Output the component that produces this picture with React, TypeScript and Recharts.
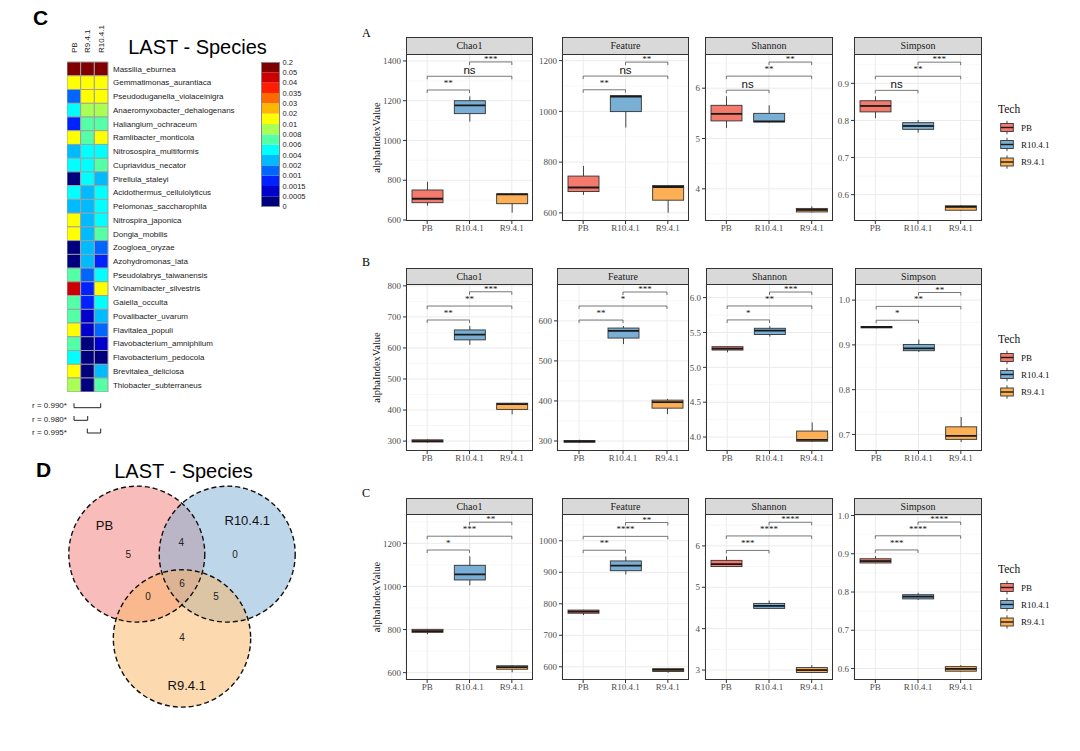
import React from 'react';
import {
  ComposedChart, Bar, XAxis, YAxis, CartesianGrid, ReferenceLine,
  BarChart, Cell, ScatterChart, Scatter,
} from 'recharts';

const SERIF = '"Liberation Serif", "Times New Roman", serif';
const SANS = '"Liberation Sans", Arial, sans-serif';

// ---------- alpha diversity boxplots ----------
const techs = ['PB', 'R10.4.1', 'R9.4.1'];
const techColors = ['#F47A6E', '#7AAFD5', '#FDAF55'];
const metrics = ['Chao1', 'Feature', 'Shannon', 'Simpson'];
const sigPairs = [['PB', 'R10.4.1'], ['PB', 'R9.4.1'], ['R10.4.1', 'R9.4.1']];

// [min, q1, median, q3, max] for PB, R10.4.1, R9.4.1
const aChao1 = [[672, 687, 707, 751, 793], [1095, 1135, 1177, 1200, 1222], [637, 682, 729, 732, 733]];
const aFeature = [[671, 684, 700, 745, 785], [936, 999, 1058, 1062, 1063], [601, 650, 702, 708, 710]];
const aShannon = [[5.21, 5.35, 5.49, 5.66, 5.84], [5.32, 5.33, 5.34, 5.5, 5.66], [3.53, 3.54, 3.58, 3.61, 3.65]];
const aSimpson = [[0.806, 0.823, 0.839, 0.853, 0.865], [0.767, 0.776, 0.785, 0.794, 0.801], [0.556, 0.558, 0.567, 0.57, 0.572]];

const bChao1 = [[295, 297, 300, 304, 306], [610, 626, 643, 658, 671], [386, 402, 419, 422, 423]];
const bFeature = [[295, 297, 299, 301, 303], [542, 557, 575, 582, 587], [367, 382, 397, 402, 405]];
const bShannon = [[5.215, 5.248, 5.267, 5.296, 5.3], [5.44, 5.47, 5.525, 5.56, 5.59], [3.93, 3.94, 3.96, 4.086, 4.21]];
const bSimpson = [[0.937, 0.938, 0.94, 0.941, 0.942], [0.884, 0.887, 0.892, 0.901, 0.912], [0.683, 0.689, 0.697, 0.717, 0.739]];

const cChao1 = [[778, 787, 793, 801, 803], [1005, 1030, 1056, 1098, 1140], [602, 616, 626, 632, 635]];
const cFeature = [[764, 770, 775, 780, 781], [893, 905, 921, 936, 950], [581, 585, 590, 594, 595]];
const cShannon = [[5.49, 5.5, 5.56, 5.65, 5.75], [4.48, 4.49, 4.55, 4.61, 4.68], [2.93, 2.94, 3.0, 3.06, 3.12]];
const cSimpson = [[0.875, 0.876, 0.881, 0.887, 0.894], [0.779, 0.782, 0.788, 0.793, 0.798], [0.592, 0.593, 0.599, 0.605, 0.609]];

// significance labels and bracket heights
const aChao1Sig = ['**', 'ns', '***'];
const aChao1SigY = [1254, 1323, 1395];
const aFeatureSig = ['**', 'ns', '**'];
const aFeatureSigY = [1085, 1139, 1194];
const aShannonSig = ['ns', '**', '**'];
const aShannonSigY = [5.96, 6.24, 6.52];
const aSimpsonSig = ['ns', '**', '***'];
const aSimpsonSigY = [0.881, 0.919, 0.957];

const bChao1Sig = ['**', '**', '***'];
const bChao1SigY = [690, 735, 781];
const bFeatureSig = ['**', '*', '***'];
const bFeatureSigY = [602, 637, 672];
const bShannonSig = ['*', '**', '***'];
const bShannonSigY = [5.68, 5.88, 6.08];
const bSimpsonSig = ['*', '**', '**'];
const bSimpsonSigY = [0.955, 0.986, 1.017];

const cChao1Sig = ['*', '***', '**'];
const cChao1SigY = [1169, 1233, 1298];
const cFeatureSig = ['**', '****', '**'];
const cFeatureSigY = [970, 1014, 1058];
const cShannonSig = ['***', '****', '****'];
const cShannonSigY = [5.89, 6.24, 6.57];
const cSimpsonSig = ['***', '****', '****'];
const cSimpsonSigY = [0.91, 0.947, 0.983];

// y axis ticks and ranges
const aChao1Ticks = [600, 800, 1000, 1200, 1400];
const aFeatureTicks = [600, 800, 1000, 1200];
const aShannonTicks = [4, 5, 6];
const aSimpsonTicks = [0.6, 0.7, 0.8, 0.9];
const bChao1Ticks = [300, 400, 500, 600, 700, 800];
const bFeatureTicks = [300, 400, 500, 600];
const bShannonTicks = [4.0, 4.5, 5.0, 5.5, 6.0];
const bSimpsonTicks = [0.7, 0.8, 0.9, 1.0];
const cChao1Ticks = [600, 800, 1000, 1200];
const cFeatureTicks = [600, 700, 800, 900, 1000];
const cShannonTicks = [3, 4, 5, 6];
const cSimpsonTicks = [0.6, 0.7, 0.8, 0.9, 1.0];

const aDomains = [[595, 1435], [568, 1226], [3.36, 6.68], [0.529, 0.979]];
const bDomains = [[268, 806], [275, 692], [3.8, 6.195], [0.663, 1.036]];
const cDomains = [[566, 1336], [558, 1085], [2.76, 6.77], [0.57, 1.004]];

// ---------- heatmap ----------
const heatColumns = ['PB', 'R9.4.1', 'R10.4.1'];
const species = [
  'Massilia_eburnea', 'Gemmatimonas_aurantiaca', 'Pseudoduganella_violaceinigra',
  'Anaeromyxobacter_dehalogenans', 'Haliangium_ochraceum', 'Ramlibacter_monticola',
  'Nitrosospira_multiformis', 'Cupriavidus_necator', 'Pirellula_staleyi',
  'Acidothermus_cellulolyticus', 'Pelomonas_saccharophila', 'Nitrospira_japonica',
  'Dongia_mobilis', 'Zoogloea_oryzae', 'Azohydromonas_lata', 'Pseudolabrys_taiwanensis',
  'Vicinamibacter_silvestris', 'Gaiella_occulta', 'Povalibacter_uvarum', 'Flavitalea_populi',
  'Flavobacterium_amniphilum', 'Flavobacterium_pedocola', 'Brevitalea_deliciosa',
  'Thiobacter_subterraneus',
];
const heatPB = [0.12, 0.016, 0.0017, 0.005, 0.0012, 0.011, 0.003, 0.005, 0.0002, 0.0048, 0.003, 0.011,
  0.012, 0.0003, 0.0002, 0.0068, 0.045, 0.0066, 0.0064, 0.013, 0.0062, 0.0046, 0.01, 0.0085];
const heatR9 = [0.11, 0.014, 0.013, 0.009, 0.007, 0.007, 0.005, 0.0045, 0.005, 0.003, 0.0028, 0.0025,
  0.0024, 0.0023, 0.0022, 0.0016, 0.0011, 0.0011, 0.0008, 0.0007, 0.0003, 0.0002, 0.0002, 0.0001];
const heatR10 = [0.1, 0.015, 0.012, 0.009, 0.007, 0.012, 0.005, 0.007, 0.003, 0.0047, 0.0045, 0.0042,
  0.0065, 0.0016, 0.0012, 0.0044, 0.011, 0.0043, 0.0026, 0.0016, 0.0007, 0.0001, 0.0024, 0.0062];
const heatBreaks = [0, 0.0005, 0.001, 0.0015, 0.002, 0.004, 0.006, 0.008, 0.01, 0.02, 0.03, 0.035, 0.04, 0.05, 0.2];
const heatColors = ['#00007F', '#0000CC', '#0022FF', '#0066FF', '#00BBFF', '#00FFFF', '#55FFA5',
  '#AAFF55', '#FFFF00', '#FFB600', '#FF6A00', '#FF1E00', '#CC0000', '#800000'];
const heatLegendLabels = ['0.2', '0.05', '0.04', '0.035', '0.03', '0.02', '0.01', '0.008', '0.006',
  '0.004', '0.002', '0.001', '0.0015', '0.0005', '0'];

// ---------- venn ----------
const vennSets = ['PB', 'R10.4.1', 'R9.4.1'];
const vennColors = ['#F17975', '#7DADD5', '#F9B35F'];
const vennCX = [-0.665, 0.665, 0];
const vennCY = [0.41, 0.41, -0.83];
const vennR = [1, 1, 1.01];
const vennLabelX = [-1.14, 0.96, 0.07];
const vennLabelY = [0.83, 0.9, -1.52];
const vennCounts = [5, 4, 0, 6, 0, 5, 4];
const vennCountX = [-0.79, -0.01, 0.78, 0, -0.5, 0.5, 0];
const vennCountY = [0.4, 0.58, 0.4, -0.02, -0.21, -0.21, -0.82];

const heatColor = (v: number) => {
  let k = 0;
  for (let i = 0; i < heatColors.length; i++) if (v >= heatBreaks[i]) k = i;
  return heatColors[k];
};

const AXW = 40;
const XH = 20;
const TOPPAD = 8;

function BoxShape(props: any) {
  const { x, y, width, height, payload } = props;
  if (!payload) return null;
  const [mn, q1, md, q3, mx] = payload.stats;
  const top = Math.min(y, y + height);
  const h = Math.abs(height);
  const py = (v: number) => top + ((mx - v) / (mx - mn)) * h;
  const cx = x + width / 2;
  return (
    <g>
      <line x1={cx} x2={cx} y1={py(mx)} y2={py(mn)} stroke="#333" strokeWidth={0.9} />
      <rect x={x} y={py(q3)} width={width} height={Math.max(py(q1) - py(q3), 0.6)}
        fill={payload.color} stroke="#333" strokeWidth={0.9} />
      <line x1={x} x2={x + width} y1={py(md)} y2={py(md)} stroke="#1a1a1a" strokeWidth={1.8} />
    </g>
  );
}

function SigLabel(props: any) {
  const { viewBox, text, lift } = props;
  if (!viewBox) return null;
  let cx: number;
  let cy: number;
  if (viewBox.x1 !== undefined) {
    cx = (viewBox.x1 + viewBox.x2) / 2;
    cy = Math.min(viewBox.y1, viewBox.y2);
  } else {
    cx = viewBox.x + (viewBox.width || 0) / 2;
    cy = viewBox.y;
  }
  const ns = text === 'ns';
  return (
    <text x={cx} y={cy - lift} textAnchor="middle" fontSize={ns ? 11.5 : 9}
      fontFamily={ns ? SANS : SERIF} fill="#111">{text}</text>
  );
}

function AlphaPanel(p: any) {
  const { title, stats, ticks, domain, sig, sigY, left, right, top, bottom, stripTop } = p;
  const plotW = right - left;
  const plotH = bottom - top;
  const rows = techs.map((t, i) => ({ tech: t, color: techColors[i], stats: stats[i], lo: stats[i][0], hi: stats[i][4] }));
  const step = ticks[1] - ticks[0];
  const minors = [ticks[0] - step / 2, ...ticks.map((t: number) => t + step / 2)]
    .filter((v) => v > domain[0] && v < domain[1]);
  const dec = step < 1 ? 1 : 0;
  const tip = (domain[1] - domain[0]) * 0.018;
  const tickStyle = { fontSize: 9, fill: '#4D4D4D', fontFamily: SERIF };
  const liftFor = (k: number) => (sig[k] === 'ns' ? 2 : k === 2 ? 0 : 4);
  return (
    <>
      <div style={{ position: 'absolute', left: left - AXW, top: top - TOPPAD, width: plotW + AXW, height: plotH + XH + TOPPAD }}>
        <ComposedChart width={plotW + AXW} height={plotH + XH + TOPPAD} data={rows}
          margin={{ top: TOPPAD, right: 0, bottom: 0, left: 0 }}>
          <CartesianGrid vertical={false} horizontalValues={minors} stroke="#F3F3F3" strokeWidth={0.7} />
          <CartesianGrid horizontalValues={ticks} stroke="#EBEBEB" strokeWidth={1} />
          <XAxis dataKey="tech" type="category" interval={0} height={XH} tickSize={3} tickMargin={1}
            axisLine={false} tickLine={{ stroke: '#333' }} tick={tickStyle} />
          <YAxis type="number" domain={domain} ticks={ticks} interval={0} width={AXW} tickSize={3}
            tickMargin={2} axisLine={false} tickLine={{ stroke: '#333' }} tick={tickStyle}
            allowDataOverflow tickFormatter={(v: number) => v.toFixed(dec)} />
          <Bar dataKey={(d: any) => [d.lo, d.hi]} barSize={31} isAnimationActive={false}
            shape={(sp: any) => <BoxShape {...sp} />} />
          {sigPairs.map(([a, b], k) => (
            <ReferenceLine key={`h${k}`} segment={[{ x: a, y: sigY[k] }, { x: b, y: sigY[k] }]}
              stroke="#555" strokeWidth={0.8} ifOverflow="visible"
              label={<SigLabel text={sig[k]} lift={liftFor(k)} />} />
          ))}
          {sigPairs.map(([a], k) => (
            <ReferenceLine key={`l${k}`} segment={[{ x: a, y: sigY[k] }, { x: a, y: sigY[k] - tip }]}
              stroke="#555" strokeWidth={0.8} ifOverflow="visible" />
          ))}
          {sigPairs.map(([, b], k) => (
            <ReferenceLine key={`r${k}`} segment={[{ x: b, y: sigY[k] }, { x: b, y: sigY[k] - tip }]}
              stroke="#555" strokeWidth={0.8} ifOverflow="visible" />
          ))}
        </ComposedChart>
      </div>
      <div style={{
        position: 'absolute', left, top, width: plotW, height: plotH, boxSizing: 'border-box',
        border: '1px solid #333', pointerEvents: 'none',
      }} />
      <div style={{
        position: 'absolute', left, top: stripTop, width: plotW, height: top - stripTop + 1,
        boxSizing: 'border-box', border: '1px solid #333', background: '#D9D9D9',
        fontFamily: SERIF, fontSize: 10, color: '#1A1A1A', textAlign: 'center',
        lineHeight: `${top - stripTop - 1}px`,
      }}>{title}</div>
    </>
  );
}

function TechLegend({ y }: { y: number }) {
  const offs = [18.5, 35.5, 53];
  return (
    <svg style={{ position: 'absolute', left: 995, top: y - 10, overflow: 'visible' }} width={80} height={70}>
      <text x={3} y={14} fontFamily={SERIF} fontSize={11.5} fill="#111">Tech</text>
      {techs.map((t, i) => {
        const yc = 10 + offs[i];
        return (
          <g key={t}>
            <line x1={12} x2={12} y1={yc - 6.7} y2={yc + 6.7} stroke="#333" strokeWidth={0.9} />
            <rect x={5.7} y={yc - 4} width={12.6} height={8} fill={techColors[i]} stroke="#333" strokeWidth={0.9} />
            <line x1={5.7} x2={18.3} y1={yc} y2={yc} stroke="#1a1a1a" strokeWidth={1.4} />
            <text x={26} y={yc + 3} fontFamily={SERIF} fontSize={9} fill="#111">{t}</text>
          </g>
        );
      })}
    </svg>
  );
}

function ColTick(props: any) {
  const { x, y, payload } = props;
  const label = heatColumns[Math.floor(payload.value)];
  return (
    <text x={x} y={y} dy="0.35em" transform={`rotate(-90 ${x} ${y})`} textAnchor="start"
      fontFamily={SANS} fontSize={8} fill="#222">{label}</text>
  );
}

export default function App() {
  const rowGeo = [
    { stripTop: 37, top: 54, bottom: 221, lefts: [406, 562, 705, 854], label: 'A', labelY: 37 },
    { stripTop: 268, top: 284, bottom: 451, lefts: [406, 557, 706, 855], label: 'B', labelY: 266 },
    { stripTop: 498, top: 514, bottom: 680, lefts: [406, 562, 705, 854], label: 'C', labelY: 497 },
  ];
  const rights = [533, 689, 833, 982];
  const rowStats = [[aChao1, aFeature, aShannon, aSimpson], [bChao1, bFeature, bShannon, bSimpson], [cChao1, cFeature, cShannon, cSimpson]];
  const rowTicks = [[aChao1Ticks, aFeatureTicks, aShannonTicks, aSimpsonTicks], [bChao1Ticks, bFeatureTicks, bShannonTicks, bSimpsonTicks], [cChao1Ticks, cFeatureTicks, cShannonTicks, cSimpsonTicks]];
  const rowDomains = [aDomains, bDomains, cDomains];
  const rowSig = [[aChao1Sig, aFeatureSig, aShannonSig, aSimpsonSig], [bChao1Sig, bFeatureSig, bShannonSig, bSimpsonSig], [cChao1Sig, cFeatureSig, cShannonSig, cSimpsonSig]];
  const rowSigY = [[aChao1SigY, aFeatureSigY, aShannonSigY, aSimpsonSigY], [bChao1SigY, bFeatureSigY, bShannonSigY, bSimpsonSigY], [cChao1SigY, cFeatureSigY, cShannonSigY, cSimpsonSigY]];
  const legendYs = [109, 339.3, 569.3];

  // heatmap geometry
  const HX = 66.7;
  const HT = 62;
  const HW = 41;
  const HH = 329.7;
  const HTOPAX = 42;
  const heatRows = species.map((s) => ({ species: s, c0: 1, c1: 1, c2: 1 }));
  const heatCols = [heatPB, heatR9, heatR10];
  const legendRow = [heatColors.reduce((o: any, _c, i) => ({ ...o, [`b${i}`]: 1 }), { name: 'scale' })];
  const LPAD = 6;

  // venn geometry
  const VS = 272;
  const VL = 45.8;
  const VT = 445.9;
  const PX = VS / 4;
  const circles = vennSets.map((s, i) => ({ x: vennCX[i], y: vennCY[i], r: vennR[i], color: vennColors[i] }));
  const setLabels = vennSets.map((s, i) => ({ x: vennLabelX[i], y: vennLabelY[i], text: s }));
  const counts = vennCounts.map((c, i) => ({ x: vennCountX[i], y: vennCountY[i], text: String(c) }));

  return (
    <div style={{ position: 'absolute', left: 0, top: 0, width: 1080, height: 751, background: '#fff', overflow: 'hidden', fontFamily: SANS }}>
      {/* heatmap */}
      <div style={{ position: 'absolute', left: HX, top: HT - HTOPAX }}>
        <BarChart width={HW + 200} height={HH + HTOPAX} data={heatRows} layout="vertical"
          barCategoryGap={0} margin={{ top: 0, right: 0, bottom: 0, left: 0 }}>
          <XAxis type="number" orientation="top" domain={[0, 3]} ticks={[0.5, 1.5, 2.5]} interval={0}
            height={HTOPAX} tickSize={4} tickMargin={5} axisLine={false} tickLine={false}
            tick={(tp: any) => <ColTick {...tp} />} />
          <YAxis type="category" dataKey="species" orientation="right" width={200} interval={0}
            tickSize={3} tickMargin={2} axisLine={false} tickLine={false}
            tick={{ fontSize: 8, fill: '#222', fontFamily: SANS }} />
          {heatCols.map((col, ci) => (
            <Bar key={ci} dataKey={`c${ci}`} stackId="h" stroke="#A0A0A0" strokeWidth={1} isAnimationActive={false}>
              {col.map((v, ri) => <Cell key={ri} fill={heatColor(v)} />)}
            </Bar>
          ))}
        </BarChart>
      </div>
      {/* heatmap colour key */}
      <div style={{ position: 'absolute', left: 261.7, top: 62 - LPAD }}>
        <BarChart width={17.6 + 40} height={144.7 + 2 * LPAD} data={legendRow} barCategoryGap={0}
          margin={{ top: LPAD, right: 0, bottom: LPAD, left: 0 }}>
          <XAxis dataKey="name" type="category" hide />
          <YAxis type="number" orientation="right" domain={[0, heatColors.length]} width={40}
            ticks={heatLegendLabels.map((_l, i) => i)} interval={0} axisLine={false} tickLine={false}
            tickSize={0} tickMargin={3} tick={{ fontSize: 7.5, fill: '#222', fontFamily: SANS, textAnchor: 'start' }}
            tickFormatter={(t: number) => heatLegendLabels[heatColors.length - t]} />
          {heatColors.map((c, i) => (
            <Bar key={i} dataKey={`b${i}`} stackId="k" fill={c} isAnimationActive={false} />
          ))}
        </BarChart>
      </div>
      <div style={{ position: 'absolute', left: 261.2, top: 61.5, width: 18.6, height: 145.7, boxSizing: 'border-box', border: '1px solid #888' }} />

      {/* venn */}
      <div style={{ position: 'absolute', left: VL, top: VT }}>
        <ScatterChart width={VS} height={VS} margin={{ top: 0, right: 0, bottom: 0, left: 0 }}>
          <XAxis type="number" dataKey="x" domain={[-2, 2]} hide />
          <YAxis type="number" dataKey="y" domain={[-2, 2]} hide />
          <Scatter data={circles} isAnimationActive={false}
            shape={(sp: any) => <circle cx={sp.cx} cy={sp.cy} r={sp.payload.r * PX} fill={sp.payload.color} fillOpacity={0.5} />} />
          <Scatter data={circles} isAnimationActive={false}
            shape={(sp: any) => <circle cx={sp.cx} cy={sp.cy} r={sp.payload.r * PX} fill="none" stroke="#111" strokeWidth={1.4} strokeDasharray="5 3" />} />
          <Scatter data={counts} isAnimationActive={false}
            shape={(sp: any) => <text x={sp.cx} y={sp.cy} textAnchor="middle" dominantBaseline="central" fontSize={10} fontFamily={SANS} fill="#222">{sp.payload.text}</text>} />
          <Scatter data={setLabels} isAnimationActive={false}
            shape={(sp: any) => <text x={sp.cx} y={sp.cy} textAnchor="middle" dominantBaseline="central" fontSize={13} fontFamily={SANS} fill="#111">{sp.payload.text}</text>} />
        </ScatterChart>
      </div>

      {/* boxplot panels */}
      {rowGeo.map((g, r) => metrics.map((m, c) => (
        <AlphaPanel key={`${r}-${c}`} title={m} stats={rowStats[r][c]} ticks={rowTicks[r][c]}
          domain={rowDomains[r][c]} sig={rowSig[r][c]} sigY={rowSigY[r][c]}
          left={g.lefts[c]} right={rights[c]} top={g.top} bottom={g.bottom} stripTop={g.stripTop} />
      )))}
      {legendYs.map((y, i) => <TechLegend key={i} y={y} />)}

      {/* static text */}
      <svg style={{ position: 'absolute', left: 0, top: 0, pointerEvents: 'none' }} width={1080} height={751}>
        <text x={33} y={25} fontFamily={SANS} fontWeight="bold" fontSize={21} fill="#000">C</text>
        <text x={197.5} y={53.5} textAnchor="middle" fontFamily={SANS} fontSize={20} fill="#000">LAST - Species</text>
        <text x={32} y={408} fontFamily={SANS} fontSize={8} fill="#222">r = 0.990*</text>
        <text x={32} y={421.5} fontFamily={SANS} fontSize={8} fill="#222">r = 0.980*</text>
        <text x={32} y={434.5} fontFamily={SANS} fontSize={8} fill="#222">r = 0.995*</text>
        <path d="M74 403.3V407.7H100.7V403.3" fill="none" stroke="#222" strokeWidth={1} />
        <path d="M74 416V420.3H87.7V416" fill="none" stroke="#222" strokeWidth={1} />
        <path d="M87.3 428.6V433H100.7V428.6" fill="none" stroke="#222" strokeWidth={1} />
        <text x={36} y={476.7} fontFamily={SANS} fontWeight="bold" fontSize={21} fill="#000">D</text>
        <text x={183.5} y={478} textAnchor="middle" fontFamily={SANS} fontSize={20} fill="#000">LAST - Species</text>
        {rowGeo.map((g) => (
          <g key={g.label}>
            <text x={362} y={g.labelY} fontFamily={SERIF} fontSize={12} fill="#000">{g.label}</text>
            <text x={379.5} y={(g.top + g.bottom) / 2} transform={`rotate(-90 379.5 ${(g.top + g.bottom) / 2})`}
              textAnchor="middle" fontFamily={SERIF} fontSize={10.5} fill="#111">alphaIndexValue</text>
          </g>
        ))}
      </svg>
    </div>
  );
}
